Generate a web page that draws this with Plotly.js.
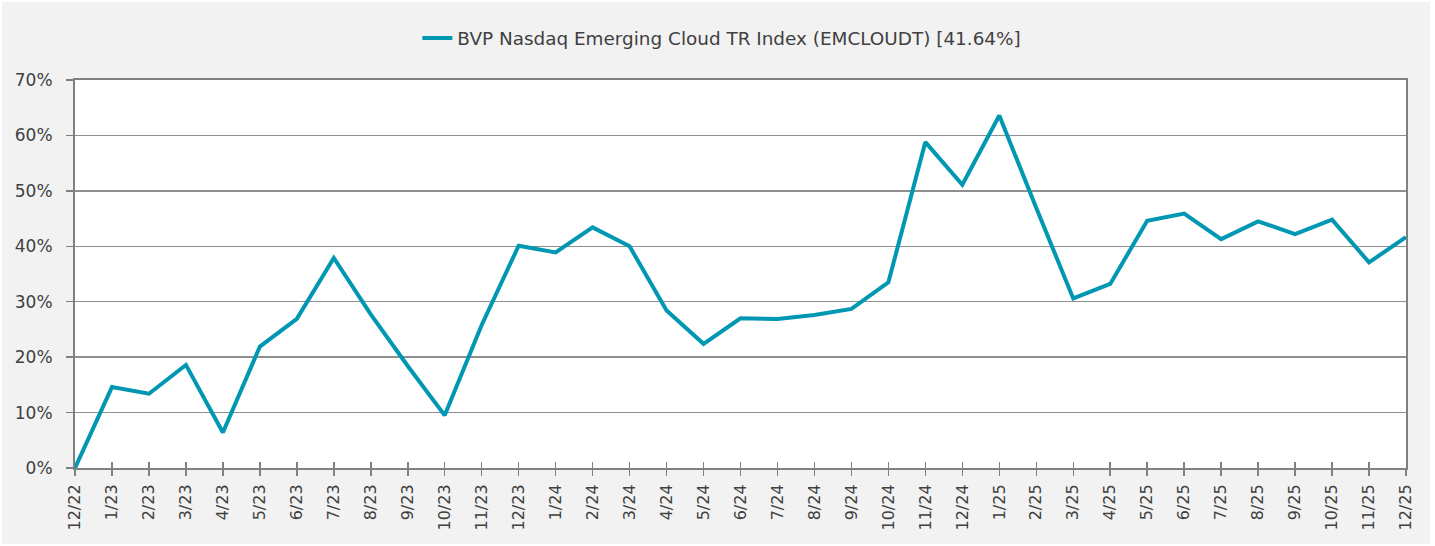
<!DOCTYPE html>
<html>
<head>
<meta charset="utf-8">
<script src="https://cdn.plot.ly/plotly-3.0.1.min.js"></script>
<style>
html,body{margin:0;padding:0;background:#ffffff;}
#chart{position:absolute;left:2px;top:2px;width:1428px;height:542px;}
</style>
</head>
<body>
<div id="chart"></div>
<script>
const months = ["12/22","1/23","2/23","3/23","4/23","5/23","6/23","7/23","8/23","9/23","10/23","11/23",
  "12/23","1/24","2/24","3/24","4/24","5/24","6/24","7/24","8/24","9/24","10/24","11/24",
  "12/24","1/25","2/25","3/25","4/25","5/25","6/25","7/25","8/25","9/25","10/25","11/25","12/25"];
const emcloudt = [0, 14.6, 13.4, 18.6, 6.4, 21.9, 26.9, 37.9, 27.7, 18.4, 9.5, 25.8,
  40.1, 38.9, 43.4, 40.0, 28.4, 22.4, 27.0, 26.9, 27.6, 28.7, 33.5, 58.8,
  51.1, 63.6, 46.9, 30.6, 33.2, 44.6, 45.9, 41.3, 44.5, 42.2, 44.8, 37.1, 41.64];
const seriesName = "BVP Nasdaq Emerging Cloud TR Index (EMCLOUDT) [41.64%]";
const yTicks = [0,10,20,30,40,50,60,70];
const yTickText = ["0%","10%","20%","30%","40%","50%","60%","70%"];

const fontFam = "DejaVu Sans, sans-serif";
const txt = "#404040";

const traces = [
  {x: months, y: emcloudt, type: "scatter", mode: "lines", name: seriesName,
   line: {color: "#0097b2", width: 4}, hoverinfo: "x+y"},
  {x: months, y: emcloudt, xaxis: "x2", type: "scatter", mode: "lines",
   line: {color: "rgba(0,0,0,0)", width: 0}, showlegend: false, hoverinfo: "skip"}
];

const layout = {
  width: 1428, height: 542,
  paper_bgcolor: "#f2f2f2", plot_bgcolor: "#ffffff",
  margin: {l: 73, r: 24, t: 78, b: 76},
  font: {family: fontFam, size: 16, color: txt},
  showlegend: true,
  legend: {orientation: "h", x: 0.486, xanchor: "center", y: 1.108, yanchor: "middle",
    font: {family: fontFam, size: 18.4, color: txt}, bgcolor: "rgba(0,0,0,0)"},
  xaxis: {type: "category", range: [0, 36], tickangle: -90, ticks: "outside", ticklen: 6,
    tickcolor: "#808080", tickwidth: 1.5, showline: true, linecolor: "#808080", linewidth: 2,
    mirror: true, showgrid: false, zeroline: false,
    tickfont: {family: fontFam, size: 16, color: txt}, ticklabelstandoff: 2},
  xaxis2: {type: "category", overlaying: "x", matches: "x", range: [0, 36], ticks: "inside", ticklen: 6,
    tickcolor: "#808080", tickwidth: 1.5, showticklabels: false, showline: false, showgrid: false,
    zeroline: false, anchor: "y", side: "bottom"},
  yaxis: {range: [0, 70], tickvals: yTicks, ticktext: yTickText, ticks: "outside", ticklen: 7,
    tickcolor: "#808080", tickwidth: 1.5, showline: true, linecolor: "#808080", linewidth: 2,
    mirror: true, showgrid: true, gridcolor: "#8f8f8f", gridwidth: 1.5, zeroline: false,
    tickfont: {family: fontFam, size: 17, color: txt}, ticklabelstandoff: 10}
};

Plotly.newPlot("chart", traces, layout, {displayModeBar: false, staticPlot: true});
</script>
</body>
</html>
